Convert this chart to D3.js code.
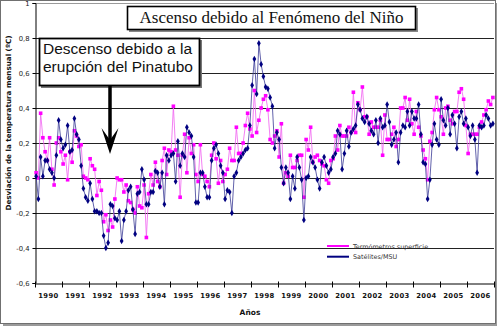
<!DOCTYPE html>
<html>
<head>
<meta charset="utf-8">
<script src="https://cdn.jsdelivr.net/npm/d3@7"></script>
<style>
  html, body { margin: 0; padding: 0; background: #fff; }
  svg { display: block; font-family: "DejaVu Sans", Verdana, sans-serif; }
</style>
</head>
<body>
<svg id="chart" width="499" height="330"></svg>
<script>
// ---- Data ----
const years = ["1990","1991","1992","1993","1994","1995","1996","1997","1998",
               "1999","2000","2001","2002","2003","2004","2005","2006"];

// Monthly anomaly, surface thermometers (magenta), Jan 1990 - Dec 2006
const surface = [
  0.03, 0.0, 0.37, 0.23, 0.15, 0.1, 0.23, 0.05, -0.04, 0.2, 0.23, 0.15,
  0.08, 0.13, -0.01, 0.15, 0.09, 0.27, 0.24, 0.18, 0.19, 0.01, 0.0, -0.01,
  0.11, 0.07, 0.05, -0.1, -0.02, -0.07, -0.25, -0.21, -0.3, -0.24, -0.28, -0.12,
  0.0, -0.01, -0.01, -0.08, -0.04, -0.13, -0.14, -0.18, -0.2, -0.05, -0.16, -0.17,
  -0.04, -0.34, -0.09, 0.02, -0.04, 0.09, -0.02, -0.05, 0.1, 0.17, 0.02, 0.16,
  0.15, 0.41, 0.16, 0.13, -0.11, 0.13, 0.25, 0.03, 0.23, 0.14, 0.19, 0.02,
  -0.02, 0.19, 0.02, 0.01, -0.02, -0.05, 0.13, 0.2, 0.11, -0.03, 0.1, -0.02,
  0.02, 0.05, 0.17, 0.1, 0.1, 0.29, 0.14, 0.14, 0.2, 0.3, 0.37, 0.28,
  0.24, 0.5, 0.26, 0.33, 0.4, 0.45, 0.47, 0.39, 0.22, 0.2, 0.24, 0.27,
  0.12, 0.31, -0.03, 0.03, 0.01, 0.13, 0.06, 0.06, 0.1, 0.13, 0.13, -0.11,
  0.22, 0.16, 0.29, 0.09, 0.12, 0.13, 0.1, 0.08, 0.07, -0.01, -0.03, 0.1,
  0.11, 0.24, 0.16, 0.3, 0.24, 0.24, 0.24, 0.29, 0.26, 0.49, 0.26, 0.43,
  0.39, 0.52, 0.35, 0.35, 0.25, 0.32, 0.29, 0.29, 0.29, 0.33, 0.13, 0.36,
  0.22, 0.22, 0.25, 0.29, 0.18, 0.22, 0.4, 0.4, 0.46, 0.33, 0.45, 0.31,
  0.25, 0.38, 0.29, 0.24, 0.16, 0.11, -0.01, 0.21, 0.26, 0.39, 0.46, 0.39,
  0.35, 0.25, 0.4, 0.41, 0.33, 0.31, 0.38, 0.38, 0.49, 0.51, 0.45, 0.3,
  0.14, 0.25, 0.25, 0.25, 0.25, 0.29, 0.32, 0.36, 0.39, 0.44, 0.42, 0.46
];

// Monthly anomaly, satellites / MSU (navy)
const satellite = [
  0.01, -0.12, 0.12, 0.01, 0.1, 0.1, 0.05, 0.03, 0.0, 0.13, 0.33, 0.22,
  0.17, 0.19, 0.3, 0.15, 0.16, 0.34, 0.25, 0.22, 0.07, -0.06, -0.11, -0.13,
  -0.03, -0.12, -0.19, -0.19, -0.2, -0.2, -0.33, -0.4, -0.37, -0.15, -0.16, -0.23,
  -0.24, -0.19, -0.36, -0.24, -0.19, -0.07, -0.05, -0.18, -0.32, -0.09, -0.08, 0.05,
  -0.01, -0.15, -0.15, -0.08, -0.08, 0.04, 0.03, -0.05, 0.03, -0.15, 0.13, 0.1,
  0.13, 0.14, -0.02, 0.21, 0.07, 0.14, 0.12, 0.29, 0.26, 0.24, 0.12, -0.14,
  -0.14, 0.03, 0.03, -0.05, -0.11, -0.11, 0.1, 0.17, 0.19, 0.14, 0.07, 0.03,
  -0.12, -0.07, -0.08, -0.2, 0.01, 0.03, 0.1, 0.12, 0.14, 0.16, 0.17, 0.3,
  0.53, 0.68, 0.48, 0.77, 0.65, 0.58, 0.52, 0.51, 0.46, 0.41, 0.17, 0.26,
  0.22, 0.06, -0.03, 0.06, 0.03, -0.12, 0.01, -0.06, 0.12, 0.06, -0.01, -0.24,
  0.0, 0.01, 0.12, 0.09, 0.06, -0.01, -0.06, 0.09, 0.12, 0.07, 0.03, 0.05,
  0.12, 0.14, 0.27, 0.25, 0.05, 0.14, 0.27, 0.18, 0.26, 0.28, 0.3, 0.42,
  0.39, 0.34, 0.32, 0.35, 0.31, 0.27, 0.25, 0.33, 0.2, 0.34, 0.29, 0.3,
  0.42, 0.32, 0.19, 0.22, 0.26, 0.09, 0.26, 0.3, 0.29, 0.38, 0.3, 0.38,
  0.34, 0.34, 0.42, 0.25, 0.09, 0.08, -0.12, -0.01, 0.19, 0.31, 0.22, 0.19,
  0.45, 0.33, 0.3, 0.4, 0.25, 0.36, 0.31, 0.17, 0.35, 0.38, 0.31, 0.34,
  0.29, 0.24, 0.3, 0.22, 0.03, 0.3, 0.29, 0.3, 0.36, 0.34, 0.3, 0.31
];

const yTickValues = [1, 0.8, 0.6, 0.4, 0.2, 0, -0.2, -0.4, -0.6];
const seriesNames = ["Termómetros superficie", "Satélites/MSU"];
const titleText = "Ascenso debido al Fenómeno del Niño";
const noteLines = ["Descenso debido a la", "erupción del Pinatubo"];
const xTitle = "Años";
const yTitle = "Desviación de la temperatura mensual (ºC)";

// ---- Drawing ----
const svg = d3.select("#chart");
const plot = { left: 35, right: 494, top: 3, bottom: 283 };
const SANS = "'DejaVu Sans', Verdana, sans-serif";

// outer frame with shadow
svg.append("rect").attr("x", 3).attr("y", 3).attr("width", 494).attr("height", 323)
  .attr("fill", "#9a9a9a");
svg.append("rect").attr("x", 0.5).attr("y", 0.5).attr("width", 495).attr("height", 323)
  .attr("fill", "#fff").attr("stroke", "#707070").attr("stroke-width", 1);

const nMonths = years.length * 12;
const x = d3.scaleLinear().domain([0, nMonths]).range([plot.left, plot.right]);
const y = d3.scaleLinear().domain([-0.6, 1]).range([plot.bottom, plot.top]);

// gridlines
svg.append("g").selectAll("line").data(yTickValues.filter(v => v > -0.6)).join("line")
  .attr("x1", plot.left).attr("x2", plot.right)
  .attr("y1", d => Math.round(y(d)) + 0.5).attr("y2", d => Math.round(y(d)) + 0.5)
  .attr("stroke", d => d === 1 ? "#9a9a9a" : "#222").attr("stroke-width", 1);

// y axis
const fmt = d => String(+d.toFixed(1)).replace(".", ",");
const yAxis = d3.axisLeft(y).tickValues(yTickValues).tickFormat(fmt).tickSize(3).tickPadding(3);
const gy = svg.append("g").attr("transform", `translate(${plot.left + 0.5},0)`).call(yAxis);
gy.attr("font-family", null);
gy.select(".domain").attr("stroke", "#000");
gy.selectAll(".tick line").attr("stroke", "#000");
gy.selectAll(".tick text").style("font-family", SANS).style("font-size", "6.8px").attr("fill", "#222");

// x axis: ticks at year boundaries, labels centred in each year
const xAxis = d3.axisBottom(x).tickValues(d3.range(0, nMonths + 1, 12)).tickFormat("").tickSize(4).tickSizeOuter(0);
const gx = svg.append("g").attr("transform", `translate(0,${plot.bottom + 0.5})`).call(xAxis);
gx.select(".domain").attr("stroke", "#000");
gx.selectAll(".tick line").attr("stroke", "#000").attr("y1", -2);

svg.append("g").selectAll("text").data(years).join("text")
  .attr("x", (d, i) => x(i * 12 + 6))
  .attr("y", 297.5)
  .attr("text-anchor", "middle")
  .style("font-family", SANS).style("font-size", "6.8px").style("font-weight", "bold")
  .style("letter-spacing", "0.4px").attr("fill", "#111")
  .text(d => d);

// axis titles
svg.append("text").attr("x", 250).attr("y", 315).attr("text-anchor", "middle")
  .style("font-family", SANS).style("font-size", "7.5px").style("font-weight", "bold")
  .attr("fill", "#111").text(xTitle);
svg.append("text").attr("transform", "translate(11,123) rotate(-90)")
  .attr("text-anchor", "middle")
  .style("font-family", SANS).style("font-size", "7.2px").style("font-weight", "bold")
  .attr("fill", "#111").text(yTitle);

// series
const line = d3.line().x((d, i) => x(i + 0.5)).y(d => y(d));
const series = [
  { name: seriesNames[0], values: surface, line: "#f060f0", fill: "#ff00ff", symbol: d3.symbolSquare, size: 13 },
  { name: seriesNames[1], values: satellite, line: "#3a3a96", fill: "#000080", symbol: d3.symbolDiamond, size: 12 }
];
series.forEach(s => {
  svg.append("path").datum(s.values).attr("d", line)
    .attr("fill", "none").attr("stroke", s.line).attr("stroke-width", 0.8);
  svg.append("g").selectAll("path").data(s.values).join("path")
    .attr("transform", (d, i) => `translate(${x(i + 0.5)},${y(d)})`)
    .attr("d", d3.symbol(s.symbol, s.size))
    .attr("fill", s.fill);
});

// legend
const leg = svg.append("g");
series.forEach((s, k) => {
  const ly = 246 + k * 10.7;
  leg.append("line").attr("x1", 327).attr("x2", 349).attr("y1", ly).attr("y2", ly)
    .attr("stroke", s.fill).attr("stroke-width", 2);
  leg.append("text").attr("x", 353).attr("y", ly + 2.5)
    .style("font-family", SANS).style("font-size", "6.4px")
    .attr("fill", "#333").text(s.name);
});

// title box
svg.append("rect").attr("x", 129).attr("y", 8).attr("width", 289).attr("height", 24).attr("fill", "#888");
svg.append("rect").attr("x", 127.5).attr("y", 6.5).attr("width", 288).attr("height", 23)
  .attr("fill", "#fff").attr("stroke", "#000").attr("stroke-width", 1.6);
svg.append("text").attr("x", 271.5).attr("y", 23).attr("text-anchor", "middle")
  .style("font-family", "'Liberation Serif', 'Times New Roman', serif").style("font-size", "17px")
  .attr("fill", "#111").text(titleText);

// annotation box
svg.append("rect").attr("x", 41).attr("y", 40).attr("width", 161).attr("height", 48).attr("fill", "#777");
svg.append("rect").attr("x", 39.5).attr("y", 38.5).attr("width", 160).attr("height", 47)
  .attr("fill", "#fff").attr("stroke", "#000").attr("stroke-width", 1.8);
svg.append("g").selectAll("text").data(noteLines).join("text")
  .attr("x", 43).attr("y", (d, i) => 54 + i * 17.5)
  .style("font-family", "'Liberation Sans', Arial, sans-serif").style("font-size", "15.5px")
  .attr("fill", "#111").text(d => d);

// arrow
svg.append("line").attr("x1", 110).attr("x2", 110).attr("y1", 86).attr("y2", 146)
  .attr("stroke", "#000").attr("stroke-width", 3.5);
svg.append("path").attr("d", "M110,154 L101.5,128 L110,140 L118.5,128 Z").attr("fill", "#000");
</script>
</body>
</html>
